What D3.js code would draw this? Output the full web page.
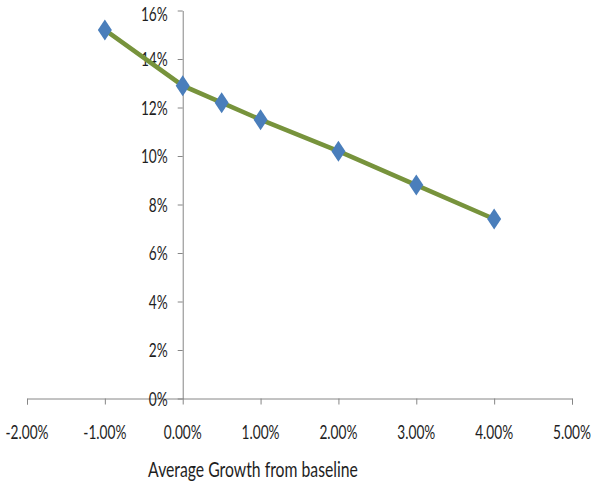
<!DOCTYPE html>
<html><head><meta charset="utf-8">
<script src="https://cdn.jsdelivr.net/npm/d3@7"></script>
<style>html,body{margin:0;padding:0;background:#fff;}svg{display:block;}</style>
</head><body>
<script>
const growth = [-1, 0, 0.5, 1, 2, 3, 4];
const rate = [15.2, 12.9, 12.2, 11.5, 10.2, 8.8, 7.4];
const xTicks = [-2, -1, 0, 1, 2, 3, 4, 5];
const yTicks = [0, 2, 4, 6, 8, 10, 12, 14, 16];
const xTitle = "Average Growth from baseline";

const W = 593, H = 482;
const svg = d3.select("body").append("svg").attr("width", W).attr("height", H);
const x = d3.scaleLinear().domain([-2, 5]).range([27, 572]);
const y = d3.scaleLinear().domain([0, 16]).range([398.5, 10.5]);
const axisColor = "#868686";
const font = "Lato, 'Open Sans', sans-serif";
const txt = "#1e1e1e";

// measure for horizontal squeeze
const probe = svg.append("text").attr("font-family", font).attr("font-size", 20).text("0.00%");
const sx = 38 / probe.node().getComputedTextLength();
probe.remove();
const probe2 = svg.append("text").attr("font-family", font).attr("font-size", 21).text(xTitle);
const sxT = 210 / probe2.node().getComputedTextLength();
probe2.remove();

// x axis
const gx = svg.append("g").attr("transform", `translate(0,${y(0)})`)
  .call(d3.axisBottom(x).tickValues(xTicks).tickSize(6).tickFormat(""));
gx.select(".domain").attr("stroke", axisColor);
gx.selectAll(".tick line").attr("stroke", axisColor);

// y axis at x=0
const gy = svg.append("g").attr("transform", `translate(${x(0)},0)`)
  .call(d3.axisLeft(y).tickValues(yTicks).tickSize(5).tickSizeOuter(0).tickFormat(""));
gy.select(".domain").attr("stroke", axisColor);
gy.selectAll(".tick line").attr("stroke", axisColor);

// y tick labels
svg.append("g").selectAll("text").data(yTicks).join("text")
  .attr("transform", d => `translate(${x(0) - 15},${Math.max(y(d), 13.5)}) scale(${sx},1)`)
  .attr("text-anchor", "end").attr("dy", "0.36em")
  .attr("font-family", font).attr("font-size", 20).attr("fill", txt)
  .text(d => d + "%");

// x tick labels
svg.append("g").selectAll("text").data(xTicks).join("text")
  .attr("transform", d => `translate(${x(d)},${439}) scale(${sx},1)`)
  .attr("text-anchor", "middle")
  .attr("font-family", font).attr("font-size", 20).attr("fill", txt)
  .text(d => d.toFixed(2) + "%");

// x title
svg.append("text")
  .attr("transform", `translate(${253},${477}) scale(${sxT},1)`)
  .attr("text-anchor", "middle")
  .attr("font-family", font).attr("font-size", 21).attr("fill", txt)
  .text(xTitle);

const pts = growth.map((g, i) => [g, rate[i]]);
svg.append("path").datum(pts)
  .attr("fill", "none").attr("stroke", "#77933C").attr("stroke-width", 4.5)
  .attr("d", d3.line().x(d => x(d[0])).y(d => y(d[1])));

svg.append("g").selectAll("path").data(pts).join("path")
  .attr("transform", d => `translate(${x(d[0])},${y(d[1])})`)
  .attr("d", "M0,-10.5L7,0L0,10.5L-7,0Z")
  .attr("fill", "#4A7EBB");
</script>
</body></html>
